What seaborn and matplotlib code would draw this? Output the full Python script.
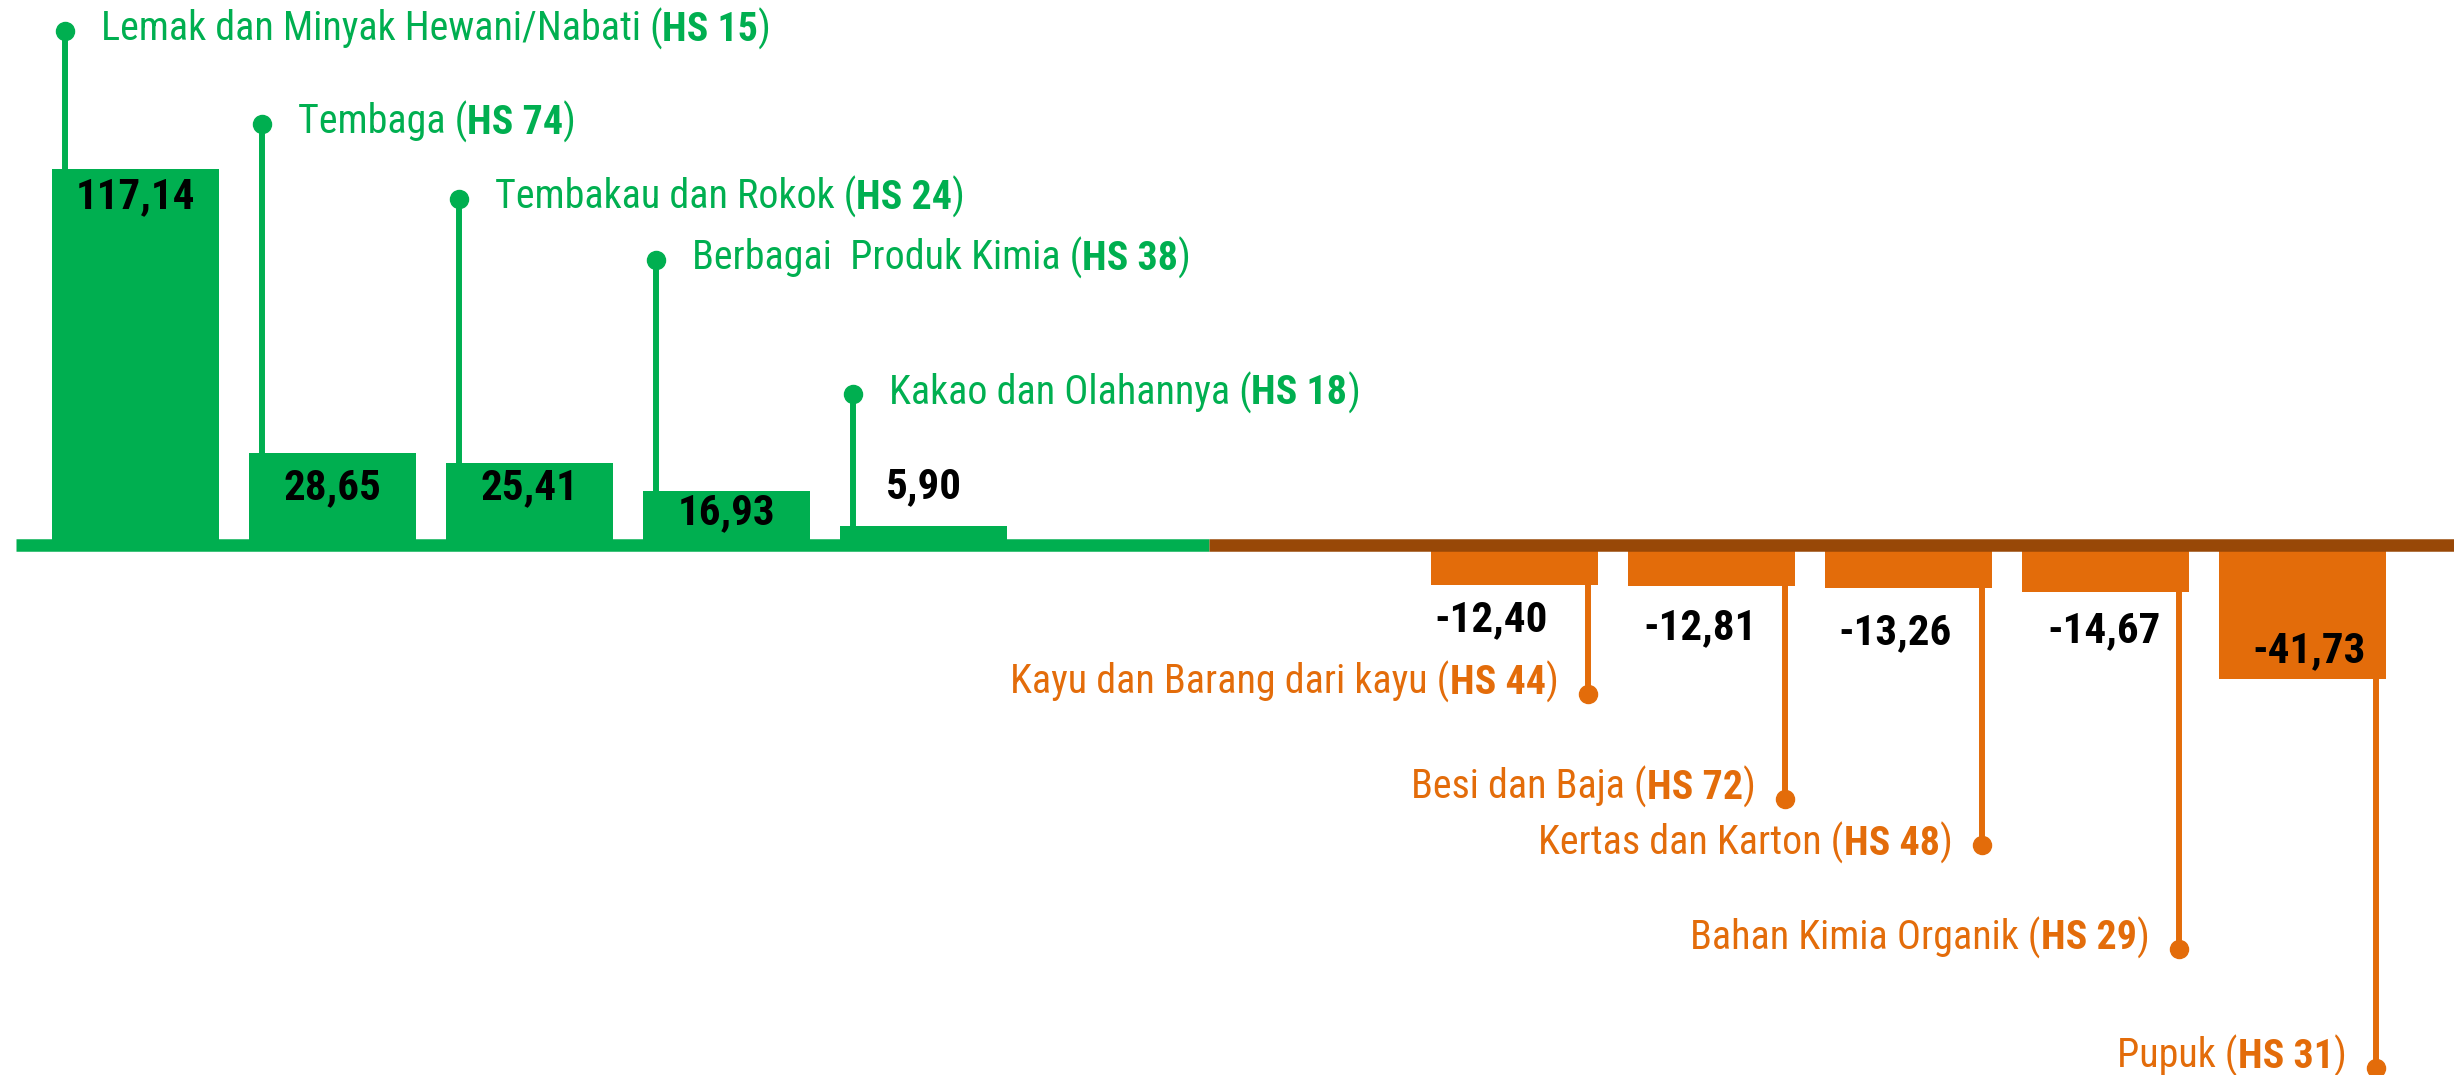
import matplotlib
matplotlib.use("Agg")
import matplotlib.pyplot as plt
from matplotlib import font_manager
import seaborn as sns
import pandas as pd

# Data: change of export value per HS group
categories = ['Lemak dan Minyak Hewani/Nabati', 'Tembaga', 'Tembakau dan Rokok',
              'Berbagai  Produk Kimia', 'Kakao dan Olahannya',
              'Kayu dan Barang dari kayu', 'Besi dan Baja', 'Kertas dan Karton',
              'Bahan Kimia Organik', 'Pupuk']
hs_codes = ['15', '74', '24', '38', '18', '44', '72', '48', '29', '31']
values = [117.14, 28.65, 25.41, 16.93, 5.90, -12.40, -12.81, -13.26, -14.67, -41.73]

# Layout (slot positions, callout dot heights, text shifts, value label heights)
positions = [0, 1, 2, 3, 4, 7, 8, 9, 10, 11]
callout_y = [160.1, 131.2, 107.8, 88.8, 47.0, -46.4, -79.1, -93.5, -125.9, -162.9]
text_dy = [-3.1, -3.1, -3.1, -3.1, -3.1, 0, 0, -3.0, 0, 0]
label_y = [108.4, 17.8, 17.9, 10.1, 18.1, -23.4, -25.7, -27.3, -26.8, -33.0]
label_dx = [0, 0, 0, 0, 0, -0.12, -0.06, -0.07, -0.01, 0.03]

GREEN = '#00AF50'
ORANGE = '#E36C0A'
BROWN = '#984807'

# the original uses a narrow sans; take one if there is one installed
names = {f.name for f in font_manager.fontManager.ttflist}
narrow = [n for n in ['Liberation Sans Narrow', 'Arial Narrow', 'Roboto Condensed',
                      'Noto Sans Condensed', 'Open Sans Condensed',
                      'DejaVu Sans Condensed'] if n in names]
if narrow:
    FONT, LABEL_SIZE, VALUE_SIZE = narrow[0], 28.8, 31
else:
    FONT, LABEL_SIZE, VALUE_SIZE = 'Liberation Sans', 25.5, 27
plt.rcParams['font.family'] = [FONT, 'DejaVu Sans']

df = pd.DataFrame({'pos': positions, 'value': values,
                   'sign': ['up' if v > 0 else 'down' for v in values]})

fig = plt.figure(figsize=(24.54, 10.75), dpi=100)
ax = fig.add_axes([0, 0, 1, 1])

sns.barplot(data=df, x='pos', y='value', hue='sign',
            palette={'up': GREEN, 'down': ORANGE}, native_scale=True,
            width=0.848, dodge=False, saturation=1, legend=False,
            linewidth=0, ax=ax, zorder=2)

ax.set_xlim(-0.688, 11.768)
ax.set_ylim(-165.1, 169.8)
ax.axis('off')

# baseline: green on the gain side, brown on the loss side
ax.plot([-0.607, 5.45], [0, 0], color=GREEN, lw=9, solid_capstyle='butt', zorder=3)
ax.plot([5.45, 12.5], [0, 0], color=BROWN, lw=9, solid_capstyle='butt', zorder=3)

renderer = fig.canvas.get_renderer()


def piece_width(s, weight, size):
    t = ax.text(0, 0, s, fontsize=size, fontweight=weight)
    w = t.get_window_extent(renderer).width * 72 / fig.dpi
    t.remove()
    return w


def draw_label(x, y, pieces, color, size, align):
    widths = [piece_width(s, w, size) for s, w in pieces]
    if align == 'left':
        off = 0
        for (s, w), wd in zip(pieces, widths):
            ax.annotate(s, (x, y), xytext=(off, 0), textcoords='offset points',
                        fontsize=size, fontweight=w, color=color,
                        ha='left', va='baseline', zorder=5)
            off += wd
    else:
        off = 0
        for (s, w), wd in zip(reversed(pieces), reversed(widths)):
            ax.annotate(s, (x, y), xytext=(off, 0), textcoords='offset points',
                        fontsize=size, fontweight=w, color=color,
                        ha='right', va='baseline', zorder=5)
            off -= wd


px = 1 / 197  # one pixel in slot units

for i, (name, hs, v) in enumerate(zip(categories, hs_codes, values)):
    p = positions[i]
    cy = callout_y[i]
    pieces = [(name + ' (', 'normal'), ('HS ' + hs, 'bold'), (')', 'normal')]
    if v > 0:
        lx = p - 0.36
        ax.plot([lx, lx], [v, cy], color=GREEN, lw=4.3, zorder=4)
        ax.plot(lx, cy, 'o', ms=13, color=GREEN, zorder=4)
        draw_label(lx + 36 * px, cy + text_dy[i], pieces, GREEN, LABEL_SIZE, 'left')
    else:
        lx = p + 0.37
        ax.plot([lx, lx], [v, cy], color=ORANGE, lw=4.3, zorder=4)
        ax.plot(lx, cy, 'o', ms=13, color=ORANGE, zorder=4)
        draw_label(lx - 29 * px, cy + text_dy[i], pieces, ORANGE, LABEL_SIZE, 'right')

    ax.text(p + label_dx[i], label_y[i], f"{v:.2f}".replace('.', ','),
            fontsize=VALUE_SIZE, fontweight='bold', color='black',
            ha='center', va='center', zorder=5)

fig.savefig('out.png', dpi=100)
